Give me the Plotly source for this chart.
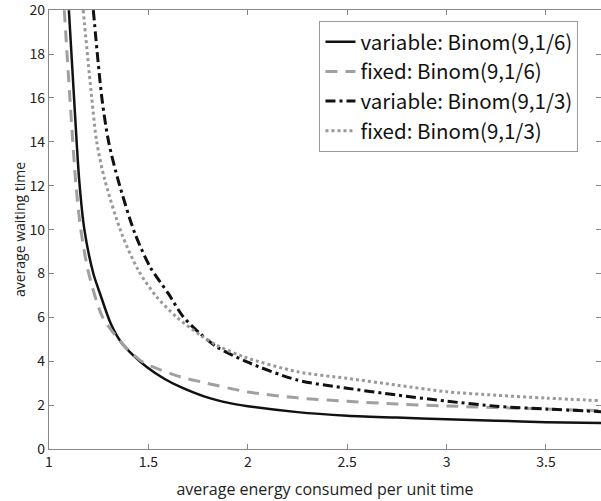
import plotly.graph_objects as go

# variable: Binom(9,1/6)  (solid black)
var16_x = [1.10, 1.126, 1.152, 1.178, 1.223, 1.256, 1.31, 1.36, 1.42, 1.49, 1.58, 1.658, 1.78, 1.91, 2.0, 2.25, 2.5, 2.75, 3.0, 3.25, 3.5, 3.777]
var16_y = [20, 16, 12.25, 10, 8, 7.1, 5.73, 4.9, 4.3, 3.75, 3.2, 2.84, 2.4, 2.09, 1.95, 1.68, 1.52, 1.43, 1.36, 1.29, 1.22, 1.18]

# fixed: Binom(9,1/6)  (dashed gray)
fix16_x = [1.077, 1.105, 1.136, 1.16, 1.20, 1.27, 1.35, 1.40, 1.457, 1.5, 1.66, 1.76, 2.0, 2.25, 2.5, 2.75, 3.0, 3.5, 3.777]
fix16_y = [20, 16, 12, 10, 8, 6, 5.0, 4.5, 4.05, 3.83, 3.29, 3.07, 2.6, 2.33, 2.17, 2.05, 1.96, 1.82, 1.75]

# variable: Binom(9,1/3)  (dash-dot black)
var13_x = [1.223, 1.266, 1.30, 1.348, 1.432, 1.508, 1.60, 1.675, 1.759, 1.843, 1.993, 2.25, 2.5, 2.75, 3.0, 3.25, 3.5, 3.777]
var13_y = [20, 16, 14, 12.25, 9.83, 8.31, 7.09, 6.03, 5.27, 4.66, 3.98, 3.14, 2.77, 2.46, 2.18, 1.95, 1.82, 1.70]

# fixed: Binom(9,1/3)  (dotted gray)
fix13_x = [1.172, 1.215, 1.24, 1.281, 1.365, 1.449, 1.541, 1.64, 1.759, 1.85, 1.98, 2.25, 2.5, 2.75, 3.0, 3.25, 3.5, 3.777]
fix13_y = [20, 16, 14, 12.25, 9.83, 8.15, 6.94, 6.03, 5.2, 4.7, 4.2, 3.52, 3.22, 2.91, 2.61, 2.45, 2.32, 2.2]

names = ["variable: Binom(9,1/6)", "fixed: Binom(9,1/6)",
         "variable: Binom(9,1/3)", "fixed: Binom(9,1/3)"]

x_ticks = [1, 1.5, 2, 2.5, 3, 3.5]
y_ticks = [0, 2, 4, 6, 8, 10, 12, 14, 16, 18, 20]

fig = go.Figure()
fig.add_trace(go.Scatter(x=var16_x, y=var16_y, mode="lines", name=names[0],
                         line=dict(color="#111111", width=2.5, shape="spline", smoothing=0.8)))
fig.add_trace(go.Scatter(x=fix16_x, y=fix16_y, mode="lines", name=names[1],
                         line=dict(color="#a0a0a0", width=3, dash="12px,8px", shape="spline", smoothing=0.8)))
fig.add_trace(go.Scatter(x=var13_x, y=var13_y, mode="lines", name=names[2],
                         line=dict(color="#111111", width=3, dash="10px,4px,3px,4px", shape="spline", smoothing=0.8)))
fig.add_trace(go.Scatter(x=fix13_x, y=fix13_y, mode="lines", name=names[3],
                         line=dict(color="#999999", width=3, dash="3px,3px", shape="spline", smoothing=0.8)))

axis_common = dict(showgrid=False, zeroline=False, showline=True, linecolor="#888888",
                   linewidth=1.2, ticks="inside", ticklen=5, tickcolor="#888888", mirror="ticks",
                   automargin=False, ticklabeloverflow="allow",
                   tickfont=dict(family="Noto Sans CJK JP", size=14, color="#222222"))

fig.update_layout(
    width=601, height=501,
    margin=dict(l=49, r=0, t=10, b=52, autoexpand=False),
    paper_bgcolor="white", plot_bgcolor="white",
    showlegend=True,
    legend=dict(x=0.49, y=0.975, xanchor="left", yanchor="top",
                bordercolor="#999999", borderwidth=1, bgcolor="white",
                font=dict(family="Noto Sans CJK JP", size=20.5, color="#111111"),
                tracegroupgap=0, itemwidth=30),
    xaxis=dict(range=[1, 3.777], tickvals=x_ticks, ticktext=[str(v) for v in x_ticks],
               title=dict(text="average energy consumed per unit time", standoff=13,
                          font=dict(family="Open Sans", size=16, color="#222222")),
               **axis_common),
    yaxis=dict(range=[-0.001, 20.01], tickvals=y_ticks, ticktext=[str(v) for v in y_ticks],
               title=dict(text="average waiting time", standoff=0,
                          font=dict(family="Open Sans", size=14, color="#222222")),
               **axis_common),
)

fig.write_html("out.html", config={"displayModeBar": False},
               post_script="document.body.style.margin='0px';")
